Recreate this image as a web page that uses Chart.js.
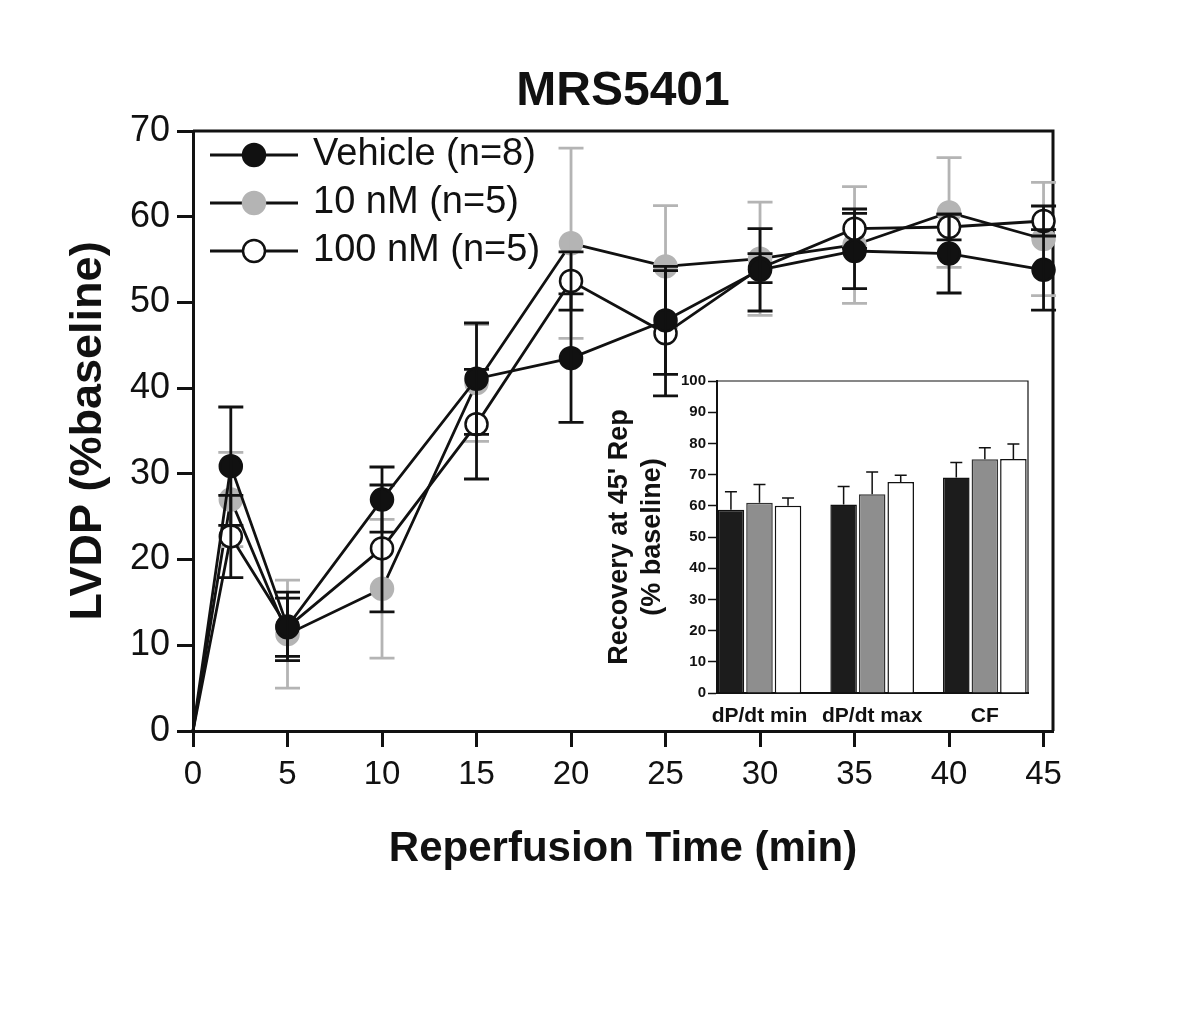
<!DOCTYPE html>
<html lang="en">

<head>
    <meta charset="UTF-8">
    <title>MRS5401</title>
    <script src="https://cdn.jsdelivr.net/npm/chart.js"></script>
    <style>
        body {
            margin: 0;
            background: #fff;
        }

        #wrap {
            position: relative;
            width: 1200px;
            height: 1009px;
        }

        #mainChart {
            position: absolute;
            left: 0;
            top: 0;
        }

        #insetChart {
            position: absolute;
            left: 590px;
            top: 360px;
        }
    </style>
</head>

<body>
    <div id="wrap">
        <canvas id="mainChart" width="1200" height="1009"></canvas>
        <canvas id="insetChart" width="450" height="380"></canvas>
    </div>

    <script>
        // main panel: LVDP vs reperfusion time
        const times = [0, 2, 5, 10, 15, 20, 25, 30, 35, 40, 45];
        const vehicle = [0, 30.9, 12.2, 27.0, 41.1, 43.5, 47.9, 53.8, 56.0, 55.7, 53.8];
        const vehicleErr = [0, 6.9, 4.0, 3.8, 6.5, 7.5, 6.3, 4.8, 4.4, 4.6, 4.7];
        const nm10 = [0, 27.0, 11.3, 16.6, 40.6, 56.9, 54.2, 55.1, 56.7, 60.5, 57.4];
        const nm10Err = [0, 5.5, 6.3, 8.1, 6.8, 11.1, 7.1, 6.6, 6.8, 6.4, 6.6];
        const nm100 = [0, 22.7, 12.1, 21.3, 35.8, 52.5, 46.4, 54.0, 58.6, 58.8, 59.5];
        const nm100Err = [0, 4.8, 3.4, 7.4, 6.4, 3.4, 7.3, 1.7, 2.3, 1.5, 1.75];

        // inset: recovery at 45' reperfusion
        const insetCats = ['dP/dt min', 'dP/dt max', 'CF'];
        const insetVehicle = [58.7, 60.4, 69.1];
        const insetVehicleErr = [5.8, 5.8, 4.8];
        const inset10 = [61.0, 63.7, 74.9];
        const inset10Err = [5.8, 7.1, 3.7];
        const inset100 = [60.0, 67.6, 75.0];
        const inset100Err = [2.5, 2.2, 4.8];

        const ink = '#111111';
        const grey = '#b4b4b4';

        Chart.defaults.font.family = "'Liberation Sans', Arial, sans-serif";
        Chart.defaults.color = ink;

        const errorBars = {
            id: 'errorBars',
            afterDatasetDraw(chart, args, opts) {
                const ds = chart.data.datasets[args.index];
                if (!ds.errors) return;
                const { ctx, scales: { x, y } } = chart;
                ctx.save();
                ctx.strokeStyle = ds.errColor;
                ctx.lineWidth = opts.width;
                ds.data.forEach((p, i) => {
                    const e = ds.errors[i];
                    if (!e) return;
                    const px = x.getPixelForValue(p.x);
                    const top = y.getPixelForValue(p.y + e);
                    const bot = y.getPixelForValue(p.y - e);
                    ctx.beginPath();
                    ctx.moveTo(px, top); ctx.lineTo(px, bot);
                    ctx.moveTo(px - opts.cap, top); ctx.lineTo(px + opts.cap, top);
                    ctx.moveTo(px - opts.cap, bot); ctx.lineTo(px + opts.cap, bot);
                    ctx.stroke();
                });
                ctx.restore();
            }
        };

        const barErrors = {
            id: 'barErrors',
            afterDatasetsDraw(chart, args, opts) {
                const { ctx, scales: { y } } = chart;
                ctx.save();
                ctx.strokeStyle = ink;
                ctx.lineWidth = opts.width;
                chart.data.datasets.forEach((ds, i) => {
                    chart.getDatasetMeta(i).data.forEach((bar, j) => {
                        const top = y.getPixelForValue(ds.data[j].y + ds.errors[j]);
                        ctx.beginPath();
                        ctx.moveTo(bar.x, bar.y); ctx.lineTo(bar.x, top);
                        ctx.moveTo(bar.x - opts.cap, top); ctx.lineTo(bar.x + opts.cap, top);
                        ctx.stroke();
                    });
                });
                ctx.restore();
            }
        };

        // top and right edges of the plot box
        const frame = {
            id: 'frame',
            beforeDatasetsDraw(chart, args, opts) {
                const { ctx, chartArea: a } = chart;
                ctx.save();
                ctx.strokeStyle = ink;
                ctx.lineWidth = opts.width;
                ctx.beginPath();
                ctx.moveTo(a.left, a.top);
                ctx.lineTo(a.right, a.top);
                ctx.lineTo(a.right, a.bottom);
                ctx.stroke();
                ctx.restore();
            }
        };

        // legend with line + marker, like the original figure
        const lineLegend = {
            id: 'lineLegend',
            afterDraw(chart, args, opts) {
                const { ctx, chartArea: a } = chart;
                chart.data.datasets.forEach((ds, i) => {
                    const y = a.top + opts.top + i * opts.gap;
                    const x0 = a.left + opts.left;
                    ctx.save();
                    ctx.strokeStyle = ds.borderColor;
                    ctx.lineWidth = ds.borderWidth;
                    ctx.beginPath();
                    ctx.moveTo(x0, y);
                    ctx.lineTo(x0 + opts.lineLen, y);
                    ctx.stroke();
                    ctx.beginPath();
                    ctx.arc(x0 + opts.lineLen / 2, y, opts.radius, 0, Math.PI * 2);
                    ctx.fillStyle = ds.pointBackgroundColor;
                    ctx.fill();
                    ctx.lineWidth = ds.pointBorderWidth;
                    ctx.strokeStyle = ds.pointBorderColor;
                    ctx.stroke();
                    ctx.fillStyle = ink;
                    ctx.font = opts.fontSize + "px 'Liberation Sans', Arial, sans-serif";
                    ctx.textBaseline = 'middle';
                    ctx.fillText(ds.label, x0 + opts.lineLen + opts.textGap, y);
                    ctx.restore();
                });
            }
        };

        const series = (label, values, errors, fill, edge, errColor, order) => ({
            label: label,
            data: times.map((t, i) => ({ x: t, y: values[i] })),
            errors: errors,
            errColor: errColor,
            borderColor: ink,
            borderWidth: 2.8,
            pointBackgroundColor: fill,
            pointBorderColor: edge,
            pointBorderWidth: 2.5,
            pointRadius: c => c.dataIndex === 0 ? 0 : 11,
            order: order,
            clip: false
        });

        new Chart(document.getElementById('mainChart'), {
            type: 'line',
            data: {
                datasets: [
                    series('Vehicle (n=8)', vehicle, vehicleErr, ink, ink, ink, 0),
                    series('10 nM (n=5)', nm10, nm10Err, grey, grey, grey, 2),
                    series('100 nM (n=5)', nm100, nm100Err, '#ffffff', ink, ink, 1)
                ]
            },
            options: {
                responsive: false,
                animation: false,
                layout: { padding: { left: 0, right: 147, top: 0, bottom: 0 } },
                plugins: {
                    legend: { display: false },
                    tooltip: { enabled: false },
                    title: {
                        display: true,
                        text: 'MRS5401',
                        fullSize: false,
                        color: ink,
                        font: { size: 48, weight: 'bold' },
                        padding: { top: 63, bottom: 10.4 }
                    },
                    errorBars: { width: 2.8, cap: 12.5 },
                    frame: { width: 3 },
                    lineLegend: { left: 17, top: 24, gap: 48, lineLen: 88, radius: 11, textGap: 15, fontSize: 38 }
                },
                scales: {
                    x: {
                        type: 'linear',
                        min: 0,
                        max: 45.5,
                        afterFit: s => { s.height = 278; },
                        ticks: { stepSize: 5, includeBounds: false, maxRotation: 0, font: { size: 33 }, padding: 8, color: ink },
                        grid: { drawOnChartArea: false, tickLength: 16, tickWidth: 3, tickColor: ink },
                        border: { color: ink, width: 3 },
                        title: {
                            display: true,
                            text: 'Reperfusion Time (min)',
                            color: ink,
                            font: { size: 42, weight: 'bold' },
                            padding: { top: 0, bottom: 134 }
                        }
                    },
                    y: {
                        min: 0,
                        max: 70,
                        afterFit: s => { s.width = 193; },
                        ticks: { stepSize: 10, font: { size: 36 }, padding: 7, color: ink },
                        grid: { drawOnChartArea: false, tickLength: 16, tickWidth: 3, tickColor: ink },
                        border: { color: ink, width: 3 },
                        title: {
                            display: true,
                            text: 'LVDP (%baseline)',
                            color: ink,
                            font: { size: 45, weight: 'bold' },
                            padding: { top: 62, bottom: 0 }
                        }
                    }
                }
            },
            plugins: [frame, errorBars, lineLegend]
        });

        const barSet = (label, values, errors, fill, edge) => ({
            label: label,
            data: values.map((v, i) => ({ x: i, y: v })),
            errors: errors,
            backgroundColor: fill,
            borderColor: edge,
            borderWidth: 1.5
        });

        new Chart(document.getElementById('insetChart'), {
            type: 'bar',
            data: {
                datasets: [
                    barSet('Vehicle', insetVehicle, insetVehicleErr, '#1c1c1c', ink),
                    barSet('10 nM', inset10, inset10Err, '#8e8e8e', '#333333'),
                    barSet('100 nM', inset100, inset100Err, '#ffffff', ink)
                ]
            },
            options: {
                responsive: false,
                animation: false,
                categoryPercentage: 0.76,
                barPercentage: 0.93,
                layout: { padding: { left: 0, right: 12, top: 21, bottom: 0 } },
                plugins: {
                    legend: { display: false },
                    tooltip: { enabled: false },
                    barErrors: { width: 1.5, cap: 6 },
                    frame: { width: 1.2 }
                },
                scales: {
                    x: {
                        type: 'linear',
                        min: -0.377,
                        max: 2.383,
                        offset: false,
                        afterFit: s => { s.height = 47; },
                        ticks: {
                            stepSize: 1,
                            includeBounds: false,
                            autoSkip: false,
                            maxRotation: 0,
                            font: { size: 21, weight: 'bold' },
                            padding: 11,
                            color: ink,
                            callback: v => insetCats[v]
                        },
                        grid: { display: false, drawTicks: false },
                        border: { color: ink, width: 2 }
                    },
                    y: {
                        min: 0,
                        max: 100,
                        afterFit: s => { s.width = 127; },
                        ticks: { stepSize: 10, font: { size: 15, weight: 'bold' }, padding: 2, color: ink },
                        grid: { drawOnChartArea: false, tickLength: 9, tickWidth: 1.5, tickColor: ink },
                        border: { color: ink, width: 2 },
                        title: {
                            display: true,
                            text: ["Recovery at 45' Rep", '(% baseline)'],
                            color: ink,
                            font: { size: 27, weight: 'bold', lineHeight: 1.22 },
                            padding: { top: 13.5, bottom: 0 }
                        }
                    }
                }
            },
            plugins: [frame, barErrors]
        });
    </script>
</body>

</html>
